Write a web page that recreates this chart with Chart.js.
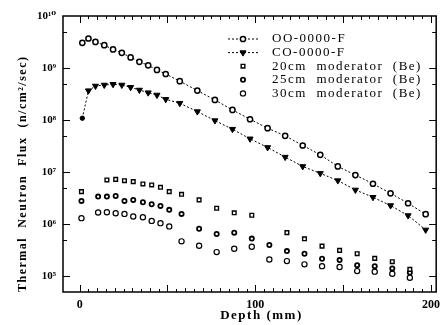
<!DOCTYPE html>
<html>
<head>
<meta charset="utf-8">
<script src="https://cdn.jsdelivr.net/npm/chart.js@4/dist/chart.umd.min.js"></script>
<style>
  body { margin: 0; background: #fff; }
  #wrap { width: 446px; height: 325px; }
</style>
</head>
<body>
<div id="wrap"><canvas id="chart" width="446" height="325"></canvas></div>
<script>
// depth (mm) of the two calculated curves
const lineDepth = [1.5, 5, 9, 14, 19, 24, 29, 34, 39, 44, 49, 57, 67, 77, 87, 97, 107, 117, 127, 137, 147, 157, 167, 177, 187, 197];
const ooFlux = [3.05e9, 3.7e9, 3.18e9, 2.75e9, 2.28e9, 1.96e9, 1.6e9, 1.32e9, 1.13e9, 9.2e8, 7.7e8, 5.6e8, 3.7e8, 2.44e8,
  1.57e8, 1.04e8, 7.0e7, 5.0e7, 3.26e7, 2.16e7, 1.29e7, 8.8e6, 6.0e6, 3.93e6, 2.53e6, 1.56e6];
const coFlux = [1.09e8, 3.68e8, 4.53e8, 4.73e8, 4.88e8, 4.73e8, 4.28e8, 3.79e8, 3.37e8, 3.04e8, 2.51e8, 2.11e8, 1.46e8, 9.8e7,
  6.7e7, 4.38e7, 2.99e7, 1.95e7, 1.29e7, 9.5e6, 6.9e6, 4.56e6, 3.3e6, 2.29e6, 1.47e6, 7.8e5];

// depth (mm) of the moderator measurements
const modDepth = [1, 10.5, 15.5, 20.5, 25.5, 30.5, 36, 41, 46, 51, 58, 68, 78, 88, 98, 108, 118, 128, 138, 148, 158, 168, 178, 188];
const mod20Flux = [4.24e6, null, 7.1e6, 7.28e6, 6.87e6, 6.58e6, 5.94e6, 5.69e6, 5.12e6, 4.24e6, 3.76e6, 2.94e6, 2.03e6,
  1.66e6, 1.49e6, null, 6.9e5, 5.26e5, 3.8e5, 3.15e5, 2.72e5, 2.21e5, 1.91e5, 1.36e5];
const mod25Flux = [2.81e6, 3.4e6, 3.4e6, 3.5e6, 2.81e6, 2.94e6, 2.64e6, 2.42e6, 2.25e6, 1.89e6, 1.58e6, 8.2e5, 6.5e5,
  6.9e5, 5.3e5, 4.0e5, 3.05e5, 2.72e5, 2.18e5, 2.05e5, 1.64e5, 1.57e5, 1.42e5, 1.18e5];
const mod30Flux = [1.31e6, 1.68e6, 1.7e6, 1.63e6, 1.58e6, 1.41e6, 1.36e6, 1.16e6, 1.05e6, 9.1e5, 4.7e5, 3.86e5, 2.92e5,
  3.39e5, 3.7e5, 2.11e5, 1.96e5, 1.7e5, 1.57e5, 1.51e5, 1.26e5, 1.23e5, 1.12e5, 9.4e4];

const seriesNames = ["OO-0000-F", "CO-0000-F", "20cm  moderator  (Be)", "25cm  moderator  (Be)", "30cm  moderator  (Be)"];
const xTickValues = [0, 100, 200];
const yTickValues = [1e5, 1e6, 1e7, 1e8, 1e9, 1e10];
const yTickLabels = ["10\u2075", "10\u2076", "10\u2077", "10\u2078", "10\u2079", "10\u00b9\u2070"];

const SERIF = "'Liberation Serif', 'DejaVu Serif', serif";

function pairs(xs, ys) {
  const out = [];
  xs.forEach((x, i) => { if (ys[i] !== null) out.push({x: x, y: ys[i]}); });
  return out;
}

// axis titles are letter-spaced, tick labels (drawn after datasets, ticks.z = 1) are not
const spacing = {
  id: 'spacing',
  beforeDraw(chart) { chart.ctx.letterSpacing = '1.5px'; },
  beforeDatasetsDraw(chart) { chart.ctx.letterSpacing = '0px'; }
};

// inside tick marks on all four sides plus the box
const frameTicks = {
  id: 'frameTicks',
  afterDraw(chart) {
    const {ctx, chartArea: a, scales: {x, y}} = chart;
    ctx.save();
    ctx.strokeStyle = '#000';
    ctx.lineWidth = 1;
    ctx.beginPath();
    for (let v = 0; v <= 200; v += 5) {
      const px = Math.round(x.getPixelForValue(v)) + 0.5;
      const len = v % 50 === 0 ? 7 : (v % 10 === 0 ? 4 : 3);
      ctx.moveTo(px, a.bottom); ctx.lineTo(px, a.bottom - len);
      ctx.moveTo(px, a.top); ctx.lineTo(px, a.top + len);
    }
    for (let e = 5; e <= 10; e++) {
      [1, 5].forEach(m => {
        const v = m * Math.pow(10, e);
        if (v >= 1e10) return;
        const py = Math.round(y.getPixelForValue(v)) + 0.5;
        const len = m === 1 ? 7 : 4;
        ctx.moveTo(a.left, py); ctx.lineTo(a.left + len, py);
        ctx.moveTo(a.right, py); ctx.lineTo(a.right - len, py);
      });
    }
    ctx.stroke();
    ctx.lineWidth = 1.5;
    ctx.strokeRect(a.left, a.top, a.right - a.left, a.bottom - a.top);
    ctx.restore();
  }
};

// legend drawn in the upper right of the plot
const legendRows = {
  id: 'legendRows',
  afterDraw(chart) {
    const {ctx, chartArea: a} = chart;
    ctx.save();
    ctx.font = "13px " + SERIF;
    ctx.letterSpacing = '1.5px';
    ctx.textBaseline = 'middle';
    ctx.fillStyle = '#000';
    chart.data.datasets.forEach((ds, i) => {
      const y = a.top + 23 + i * 13.6;
      const mx = a.left + 180;
      if (ds.showLine) {
        ctx.save();
        ctx.lineWidth = 1;
        ctx.setLineDash(ds.borderDash);
        ctx.beginPath();
        ctx.moveTo(a.left + 165, y); ctx.lineTo(a.left + 196, y);
        ctx.stroke();
        ctx.restore();
      }
      ctx.save();
      ctx.lineWidth = ds.pointBorderWidth;
      ctx.fillStyle = ds.pointBackgroundColor;
      ctx.strokeStyle = '#000';
      Chart.helpers.drawPoint(ctx, {
        pointStyle: ds.legendStyle || ds.pointStyle, rotation: ds.pointRotation || 0,
        radius: ds.legendRadius || ds.pointRadius, borderWidth: ds.pointBorderWidth
      }, mx, y);
      ctx.restore();
      ctx.fillText(ds.label, a.left + 209, y);
    });
    ctx.restore();
  }
};

const ctx = document.getElementById("chart").getContext('2d');

new Chart(ctx, {
  type: "scatter",
  data: {
    datasets: [{
      label: seriesNames[0],
      data: pairs(lineDepth, ooFlux),
      showLine: true,
      borderColor: '#000',
      borderWidth: 1,
      borderDash: [2, 2],
      pointStyle: 'circle',
      pointRadius: 2.6,
      pointBorderWidth: 1.5,
      pointBorderColor: '#000',
      pointBackgroundColor: '#fff'
    }, {
      label: seriesNames[1],
      data: pairs(lineDepth, coFlux),
      showLine: true,
      borderColor: '#000',
      borderWidth: 1,
      borderDash: [2, 2],
      pointStyle: c => c.dataIndex === 0 ? 'circle' : 'triangle',
      pointRadius: c => c.dataIndex === 0 ? 2.2 : 3.5,
      legendStyle: 'triangle',
      legendRadius: 3.5,
      pointRotation: 180,
      pointBorderWidth: 1,
      pointBorderColor: '#000',
      pointBackgroundColor: '#000'
    }, {
      label: seriesNames[2],
      data: pairs(modDepth, mod20Flux),
      pointStyle: 'rect',
      pointRadius: 2.6,
      pointBorderWidth: 1.4,
      pointBorderColor: '#000',
      pointBackgroundColor: '#fff'
    }, {
      label: seriesNames[3],
      data: pairs(modDepth, mod25Flux),
      pointStyle: 'circle',
      pointRadius: 2.1,
      pointBorderWidth: 1.8,
      pointBorderColor: '#000',
      pointBackgroundColor: '#fff'
    }, {
      label: seriesNames[4],
      data: pairs(modDepth, mod30Flux),
      pointStyle: 'circle',
      pointRadius: 2.6,
      pointBorderWidth: 1.2,
      pointBorderColor: '#000',
      pointBackgroundColor: '#fff'
    }]
  },
  options: {
    responsive: false,
    animation: false,
    layout: { padding: { top: 16, right: 5, left: 0, bottom: 0 } },
    plugins: {
      legend: { display: false },
      tooltip: { enabled: false }
    },
    scales: {
      x: {
        type: 'linear',
        min: -9.5,
        max: 203,
        grid: { display: false, drawTicks: false },
        border: { display: false },
        afterBuildTicks: s => { s.ticks = xTickValues.map(v => ({value: v})); },
        afterFit: s => { s.height = 33; },
        ticks: {
          z: 1,
          color: '#000',
          padding: 6,
          maxRotation: 0,
          font: { family: SERIF, size: 12, weight: 'bold' }
        },
        title: {
          display: true,
          text: '     Depth (mm)',
          color: '#000',
          padding: { top: 0, bottom: 2 },
          font: { family: SERIF, size: 13, weight: 'bold' }
        }
      },
      y: {
        type: 'logarithmic',
        min: 5e4,
        max: 1e10,
        grid: { display: false, drawTicks: false },
        border: { display: false },
        afterBuildTicks: s => { s.ticks = yTickValues.map(v => ({value: v})); },
        afterFit: s => { s.width = 63; },
        ticks: {
          z: 1,
          color: '#000',
          padding: 7,
          font: { family: SERIF, size: 11, weight: 'bold' },
          callback: (v, i) => yTickLabels[i]
        },
        title: {
          display: true,
          align: 'start',
          text: 'Thermal  Neutron  Flux  (n/cm\u00b2/sec)',
          color: '#000',
          padding: { top: 16, bottom: 0 },
          font: { family: SERIF, size: 12, weight: 'bold' }
        }
      }
    }
  },
  plugins: [spacing, frameTicks, legendRows]
});
</script>
</body>
</html>
